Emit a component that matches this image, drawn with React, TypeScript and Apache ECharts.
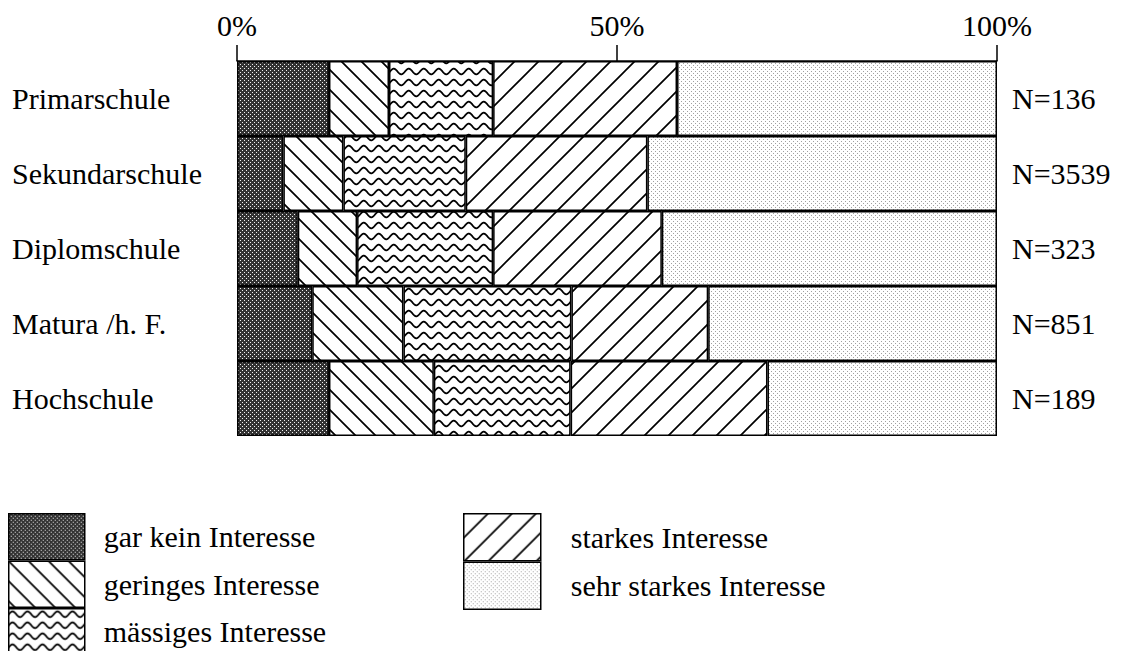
import React, { useEffect, useRef } from "react";
import * as echarts from "echarts";

const categories = ["Primarschule", "Sekundarschule", "Diplomschule", "Matura /h. F.", "Hochschule"];
const sampleSizes = ["N=136", "N=3539", "N=323", "N=851", "N=189"];
const seriesNames = [
  "gar kein Interesse",
  "geringes Interesse",
  "mässiges Interesse",
  "starkes Interesse",
  "sehr starkes Interesse",
];
const garKein = [12.1, 6.1, 8.0, 9.9, 12.1];
const geringes = [7.9, 7.9, 7.8, 12.0, 13.8];
const maessiges = [13.7, 16.1, 17.9, 22.1, 18.0];
const starkes = [24.2, 23.9, 22.2, 18.0, 25.9];
const sehrStarkes = [42.1, 46.0, 44.1, 38.0, 30.2];
const axisTicks = [0, 50, 100];

const FONT = "'Liberation Serif', 'Times New Roman', serif";

function makeCanvas(w: number, h: number, draw: (ctx: CanvasRenderingContext2D) => void) {
  const c = document.createElement("canvas");
  c.width = w;
  c.height = h;
  const ctx = c.getContext("2d")!;
  draw(ctx);
  return { image: c, repeat: "repeat", imageWidth: w, imageHeight: h } as any;
}

function buildPatterns() {
  const dark = makeCanvas(4, 4, (ctx) => {
    ctx.fillStyle = "#333333";
    ctx.fillRect(0, 0, 4, 4);
    ctx.fillStyle = "#f2f2f2";
    ctx.fillRect(0, 0, 1, 1);
    ctx.fillRect(2, 2, 1, 1);
  });
  const s1 = 20;
  const back = makeCanvas(s1, s1, (ctx) => {
    ctx.fillStyle = "#fff";
    ctx.fillRect(0, 0, s1, s1);
    ctx.strokeStyle = "#000";
    ctx.lineWidth = 1.7;
    ctx.beginPath();
    for (const k of [-s1, 0, s1]) {
      ctx.moveTo(k - s1, -s1);
      ctx.lineTo(k + 2 * s1, 2 * s1);
    }
    ctx.stroke();
  });
  const ww = 15;
  const wh = 11;
  const wave = makeCanvas(ww, wh, (ctx) => {
    ctx.fillStyle = "#fff";
    ctx.fillRect(0, 0, ww, wh);
    ctx.strokeStyle = "#000";
    ctx.lineWidth = 1.8;
    ctx.beginPath();
    for (let x = -1; x <= ww + 1; x += 0.5) {
      const y = wh / 2 - 2.8 * Math.sin((2 * Math.PI * x) / ww);
      if (x === -1) ctx.moveTo(x, y);
      else ctx.lineTo(x, y);
    }
    ctx.stroke();
  });
  const s2 = 24;
  const fwd = makeCanvas(s2, s2, (ctx) => {
    ctx.fillStyle = "#fff";
    ctx.fillRect(0, 0, s2, s2);
    ctx.strokeStyle = "#000";
    ctx.lineWidth = 1.7;
    ctx.beginPath();
    for (const c of [0, s2, 2 * s2]) {
      ctx.moveTo(-s2, c + s2);
      ctx.lineTo(2 * s2, c - 2 * s2);
    }
    ctx.stroke();
  });
  const light = makeCanvas(4, 4, (ctx) => {
    ctx.fillStyle = "#ffffff";
    ctx.fillRect(0, 0, 4, 4);
    ctx.fillStyle = "#a0a0a0";
    ctx.fillRect(1, 1, 1, 1);
    ctx.fillRect(3, 3, 1, 1);
  });
  return [dark, back, wave, fwd, light];
}

export default function App() {
  const ref = useRef<HTMLDivElement>(null);

  useEffect(() => {
    if (!ref.current) return;
    const chart = echarts.init(ref.current, undefined, { renderer: "svg" });
    const patterns = buildPatterns();
    const values = [garKein, geringes, maessiges, starkes, sehrStarkes];

    const textBase = { fontFamily: FONT, color: "#000" };

    chart.setOption({
      animation: false,
      backgroundColor: "#fff",
      grid: { left: 237, right: 125, top: 61, bottom: 215, containLabel: false },
      xAxis: {
        type: "value",
        position: "top",
        min: axisTicks[0],
        max: axisTicks[axisTicks.length - 1],
        interval: axisTicks[1] - axisTicks[0],
        axisLine: { show: true, lineStyle: { color: "#000", width: 1.5 } },
        axisTick: { show: true, inside: false, length: 16, lineStyle: { color: "#000", width: 1.5 } },
        splitLine: { show: false },
        axisLabel: { ...textBase, fontSize: 30, margin: 21, formatter: "{value}%" },
      },
      yAxis: [
        {
          type: "category",
          data: categories,
          inverse: true,
          axisLine: { show: false },
          axisTick: { show: false },
          axisLabel: { ...textBase, fontSize: 30, align: "left", margin: 225 },
        },
        {
          type: "category",
          data: sampleSizes,
          inverse: true,
          position: "right",
          axisLine: { show: false },
          axisTick: { show: false },
          axisLabel: { ...textBase, fontSize: 30, align: "left", margin: 15 },
        },
      ],
      legend: [
        {
          data: seriesNames.slice(0, 3),
          orient: "vertical",
          left: 8,
          top: 513,
          height: 200,
          itemWidth: 76,
          itemHeight: 46,
          itemGap: 0,
          icon: "rect",
          selectedMode: false,
          padding: 0,
          itemStyle: { borderColor: "#000", borderWidth: 1.5 },
          textStyle: { ...textBase, fontSize: 30, padding: [0, 0, 0, 14] },
        },
        {
          data: seriesNames.slice(3),
          orient: "vertical",
          left: 463,
          top: 513,
          height: 200,
          itemWidth: 77,
          itemHeight: 47,
          itemGap: 0,
          icon: "rect",
          selectedMode: false,
          padding: 0,
          itemStyle: { borderColor: "#000", borderWidth: 1.5 },
          textStyle: { ...textBase, fontSize: 30, padding: [0, 0, 0, 25] },
        },
      ],
      series: seriesNames.map((name, i) => ({
        name,
        type: "bar",
        stack: "total",
        barCategoryGap: 0,
        barWidth: "100%",
        data: values[i],
        itemStyle: { color: patterns[i], borderColor: "#000", borderWidth: 1.5 },
        emphasis: { disabled: true },
      })),
    });

    return () => chart.dispose();
  }, []);

  return (
    <div
      ref={ref}
      style={{ position: "fixed", left: 0, top: 0, width: 1122, height: 651, background: "#fff" }}
    />
  );
}
